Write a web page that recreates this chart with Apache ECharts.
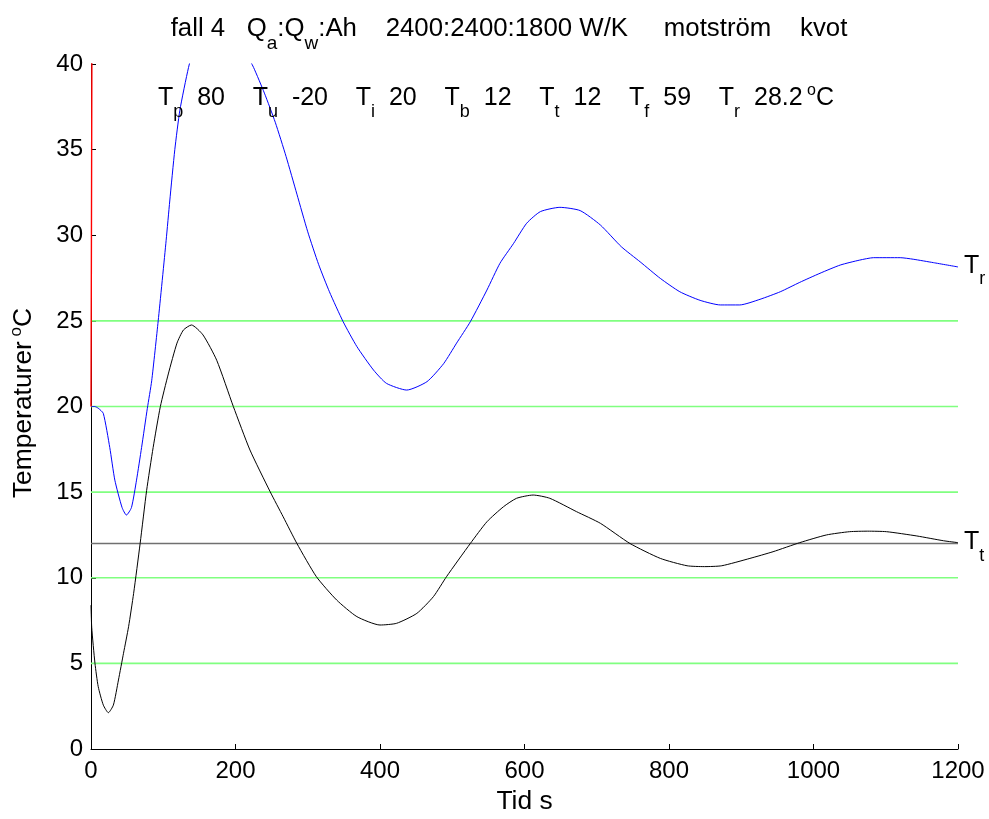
<!DOCTYPE html>
<html>
<head>
<meta charset="utf-8">
<script src="https://cdn.jsdelivr.net/npm/echarts@6/dist/echarts.min.js"></script>
<style>html,body{margin:0;padding:0;background:#fff;}#chart{width:989px;height:819px;}</style>
</head>
<body>
<div id="chart"></div>
<script>
// ---------- data ----------
const timeTicks = [0, 200, 400, 600, 800, 1000, 1200];
const tempTicks = [0, 5, 10, 15, 20, 25, 30, 35, 40];

// green reference levels and target level T_t
const greenLevels = [5, 10, 15, 20, 25];
const targetLevel = 12;

// T_r (blue)
const trTime = [0, 5, 10, 17, 26, 33, 43, 49, 56, 63, 70, 78, 84, 93, 104, 109, 116, 123, 135, 145, 155, 165, 175, 185, 195, 205, 215, 225, 240, 255, 270, 285, 300, 315, 330, 349, 368, 391, 409, 437, 465, 488, 506, 525, 548, 566, 585, 603, 622, 649, 677, 705, 734, 760, 788, 815, 843, 871, 898, 926, 954, 981, 1009, 1037, 1064, 1083, 1120, 1138, 1166, 1200];
const trTemp = [20, 20, 19.9, 19.6, 17.6, 15.7, 14.1, 13.66, 14.1, 15.7, 17.6, 19.9, 21.5, 25, 29.7, 32, 35, 37.3, 39.8, 41.3, 42.3, 42.8, 42.9, 42.6, 42.0, 41.3, 40.6, 39.8, 38.3, 36.6, 34.6, 32.4, 30.2, 28.3, 26.7, 24.95, 23.5, 22.13, 21.35, 20.96, 21.45, 22.5, 23.7, 24.95, 26.8, 28.36, 29.53, 30.7, 31.38, 31.63, 31.44, 30.6, 29.33, 28.45, 27.48, 26.7, 26.2, 25.93, 25.93, 26.26, 26.7, 27.25, 27.78, 28.26, 28.55, 28.69, 28.69, 28.6, 28.4, 28.15];

// T_t (black)
const ttTime = [0, 1, 5.5, 10, 17, 24, 31, 38, 45, 52, 59, 68, 77, 86, 96, 107, 119, 128, 139, 155, 174, 197, 220, 248, 266, 285, 312, 340, 368, 400, 423, 451, 474, 492, 525, 548, 571, 589, 612, 635, 672, 705, 746, 788, 825, 849, 873, 912, 944, 981, 1018, 1050, 1075, 1101, 1143, 1180, 1200];
const ttTemp = [8.4, 7.1, 5.0, 3.64, 2.57, 2.12, 2.57, 4.03, 5.59, 7.14, 9.09, 12.0, 15.1, 17.6, 20.0, 21.9, 23.7, 24.47, 24.76, 24.18, 22.7, 20.0, 17.46, 15.02, 13.56, 12.0, 10.06, 8.7, 7.73, 7.24, 7.34, 7.92, 8.9, 10.06, 12.0, 13.27, 14.15, 14.64, 14.83, 14.64, 13.86, 13.18, 12.0, 11.13, 10.7, 10.65, 10.7, 11.13, 11.52, 12.05, 12.5, 12.69, 12.72, 12.69, 12.44, 12.16, 12.05];

// T_p (red) - shoots up immediately
const tpTime = [0, 0.6, 1.2, 1.8];
const tpTemp = [20, 30, 40, 50];

// header parameters
const paramSubs = ['p', 'u', 'i', 'b', 't', 'f', 'r'];
const paramVals = ['80', '-20', '20', '12', '12', '59', '28.2'];

// ---------- fonts ----------
const FAMILY = '"Liberation Sans", Arial, sans-serif';
const FS_TICK = 24;      // tick labels
const FS_LABEL = 26.4;   // axis names (MATLAB 1.1x)
const FS_TITLE = 25.8;   // title
const FS_TEXT = 25;      // in-plot text

function makeRich(fs) {
  const ss = Math.round(fs * 0.72), su = Math.round(fs * 0.64);
  const pn = Math.round(fs * 0.1);
  return {
    n: {fontSize: fs, fontFamily: FAMILY, color: '#000', verticalAlign: 'top', lineHeight: fs, padding: [pn, 0, 0, 0]},
    s: {fontSize: ss, fontFamily: FAMILY, color: '#000', verticalAlign: 'top', lineHeight: ss, padding: [pn + Math.round(fs * 0.68), 0, 0, 0]},
    u: {fontSize: su, fontFamily: FAMILY, color: '#000', verticalAlign: 'top', lineHeight: su, padding: [0, 0, 0, 0]}
  };
}

const line1 = '{n|fall 4   Q}{s|a}{n|:Q}{s|w}{n|:Ah    2400:2400:1800 W/K     motström    kvot}';
const line2 = paramSubs.map((s, i) => '{n|T}{s|' + s + '}{n|  ' + paramVals[i] + '}').join('{n|    }') + '{u| o}{n|C}';
const yName = '{n|Temperaturer}{u| o}{n|C}';

// ---------- build ----------
const xMin = timeTicks[0], xMax = timeTicks[timeTicks.length - 1];
const yMin = tempTicks[0], yMax = tempTicks[tempTicks.length - 1];
const zip = (a, b) => a.map((v, i) => [v, b[i]]);

const series = [];
greenLevels.forEach(lv => series.push({
  type: 'line', data: [[xMin, lv], [xMax, lv]], symbol: 'none', silent: true,
  lineStyle: {color: '#80ff80', width: 1.6}, z: 1
}));
series.push({
  type: 'line', data: [[xMin, targetLevel], [xMax, targetLevel]], symbol: 'none', silent: true,
  lineStyle: {color: '#707070', width: 1.6}, z: 2,
  endLabel: {show: true, formatter: '{n|T}{s|t}', rich: makeRich(FS_TEXT), distance: 6, offset: [0, -4]}
});
series.push({
  type: 'line', data: zip(ttTime, ttTemp), symbol: 'none', smooth: 0.2, silent: true,
  lineStyle: {color: '#000', width: 1}, z: 3
});
series.push({
  type: 'line', data: zip(trTime, trTemp), symbol: 'none', smooth: 0.2, silent: true,
  lineStyle: {color: '#0000ff', width: 1}, z: 4,
  endLabel: {show: true, formatter: '{n|T}{s|r}', rich: makeRich(FS_TEXT), distance: 6, offset: [0, -4]}
});
series.push({
  type: 'line', data: zip(tpTime, tpTemp), symbol: 'none', silent: true,
  lineStyle: {color: '#ff0000', width: 1.4}, z: 5
});

const tickText = {color: '#000', fontSize: FS_TICK, fontFamily: FAMILY};
const option = {
  animation: false,
  backgroundColor: '#fff',
  grid: {left: 91, right: 31, top: 64, bottom: 70, containLabel: false, outerBoundsMode: 'none'},
  xAxis: {
    type: 'value', min: xMin, max: xMax, interval: timeTicks[1] - timeTicks[0],
    axisLine: {show: true, onZero: false, lineStyle: {color: '#000', width: 1}},
    axisTick: {show: true, inside: true, length: 5, lineStyle: {color: '#000'}},
    axisLabel: Object.assign({margin: 10, formatter: v => String(v)}, tickText),
    splitLine: {show: false},
    name: 'Tid s', nameLocation: 'middle', nameGap: 40,
    nameTextStyle: {color: '#000', fontSize: FS_LABEL, fontFamily: FAMILY}
  },
  yAxis: {
    type: 'value', min: yMin, max: yMax, interval: tempTicks[1] - tempTicks[0],
    axisLine: {show: true, lineStyle: {color: '#000', width: 1}},
    axisTick: {show: true, inside: true, length: 5, lineStyle: {color: '#000'}},
    axisLabel: Object.assign({margin: 8, formatter: v => String(v)}, tickText),
    splitLine: {show: false}
  },
  graphic: [
    {type: 'text', x: 509, y: 13, silent: true, style: {text: line1, rich: makeRich(FS_TITLE), align: 'center', verticalAlign: 'top'}},
    {type: 'text', x: 496, y: 83, silent: true, z: 10, style: {text: line2, rich: makeRich(FS_TEXT), align: 'center', verticalAlign: 'top'}},
    {type: 'text', x: 8, y: 403, rotation: Math.PI / 2, silent: true, style: {text: yName, rich: makeRich(FS_LABEL), align: 'center', verticalAlign: 'top'}}
  ],
  series: series
};
const chart = echarts.init(document.getElementById('chart'), null, {renderer: 'canvas'});
chart.setOption(option);
</script>
</body>
</html>
